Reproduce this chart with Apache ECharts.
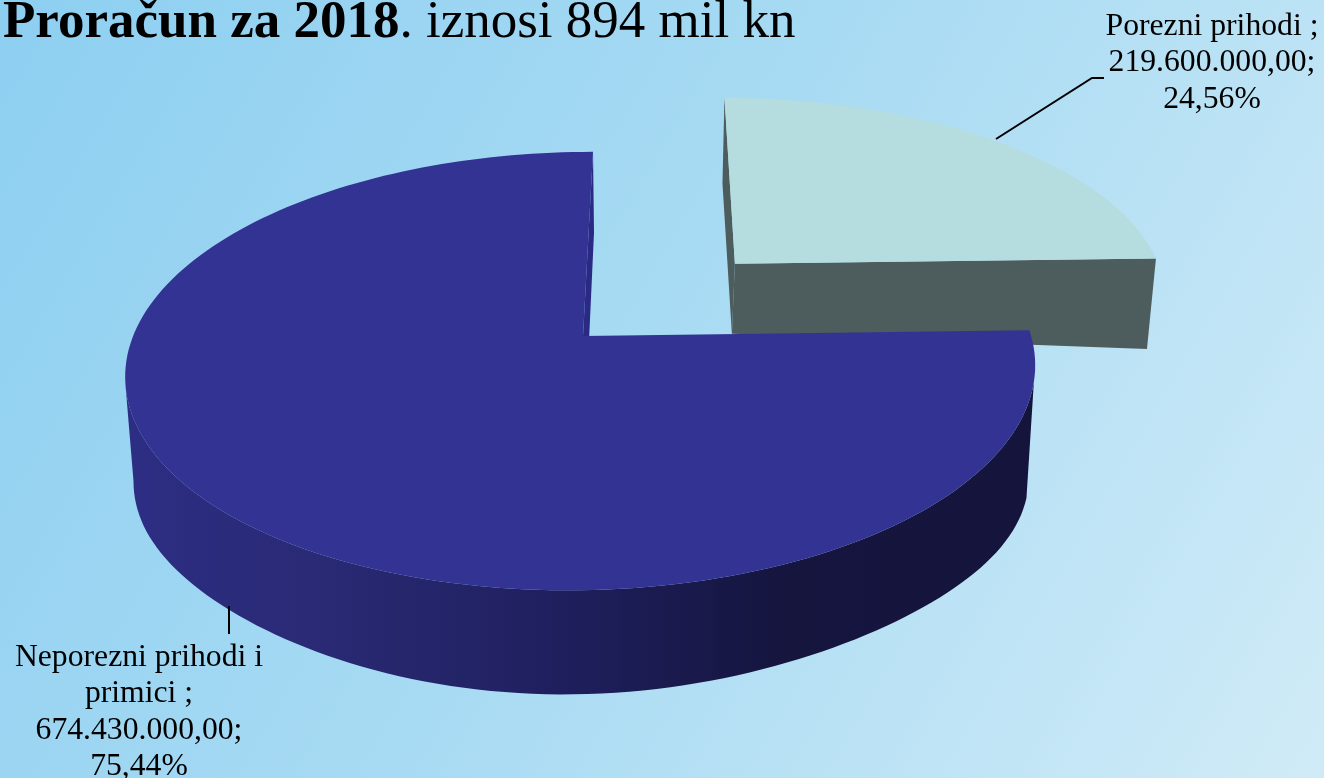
<!DOCTYPE html>
<html>
<head>
<meta charset="utf-8">
<title>Proračun za 2018</title>
<script src="https://cdn.jsdelivr.net/npm/echarts@6/dist/echarts.min.js"></script>
<style>
  html, body { margin: 0; padding: 0; width: 100%; height: 100%; overflow: hidden; }
  #main { width: 1324px; height: 778px; }
</style>
</head>
<body>
<div id="main"></div>
<script>
const categories = ['Porezni prihodi ;', 'Neporezni prihodi i\nprimici ;']
const values = [219600000, 674430000]

const fontFamily = '"Liberation Serif", "Times New Roman", serif'
const topColors = ['#b5dcdf', '#333393']
const cutColors = ['#4d5c5c', '#2a2a85']
const explode = [0.5, 0]
// dubina i pomak stranice ovise o polozaju na disku (0, u, v, v*v, u^4)
const wallDepth = [[70, 20, 16, 0, 0], [70, 10, -11.5, 22.5, 36]]
const wallShift = [[-3, -6, 1, 0], [3, -8, 10, -12]]
const labelPos = [[1212, 63], [139, 712]]
const leaders = [
  [[996, 139], [1092, 78], [1104, 78]],
  [[229, 606], [229, 634]]
]

const total = values.reduce((a, b) => a + b, 0)

function formatMoney(v) {
  return v.toFixed(2).replace('.', ',').replace(/\B(?=(\d{3})+(?!\d))/g, '.')
}
function formatLabel(i) {
  const pct = ((values[i] / total) * 100).toFixed(2).replace('.', ',')
  return categories[i] + '\n' + formatMoney(values[i]) + ';\n' + pct + '%'
}

// perspektivna projekcija diska na ekran
function project(u, v) {
  const w = 1 + 0.002 * u + 0.16 * v
  return [583 + (449 * u + 11.6 * v) / w, 336 + (-213.6 * v) / w]
}

const chart = echarts.init(document.getElementById('main'))

function renderSlice(params, api) {
  const i = params.dataIndex
  const frac = api.value(0) / total
  let before = 0
  for (let k = 0; k < i; k++) before += values[k] / total
  const a0 = before * 2 * Math.PI
  const a1 = (before + frac) * 2 * Math.PI
  const mid = (a0 + a1) / 2
  const ox = explode[i] * Math.sin(mid)
  const oy = explode[i] * Math.cos(mid)

  const top = (lu, lv) => project(ox + lu, oy + lv)
  const bottom = (lu, lv) => {
    const p = top(lu, lv)
    const h = wallDepth[i]
    const s = wallShift[i]
    return [
      p[0] + s[0] + s[1] * lu + s[2] * lv + s[3] * lv * lv,
      p[1] + h[0] + h[1] * lu + h[2] * lv + h[3] * lv * lv + h[4] * Math.pow(lu, 4)
    ]
  }

  const arc = []
  const steps = 180
  for (let k = 0; k <= steps; k++) {
    const a = a0 + ((a1 - a0) * k) / steps
    arc.push([Math.sin(a), Math.cos(a)])
  }
  const first = arc[0]
  const last = arc[arc.length - 1]

  const children = []
  // vanjski plast manjeg isjecka se ne vidi, a kod veceg samo prednja strana
  if (i === 1) {
    const wallFill = new echarts.graphic.LinearGradient(125, 0, 1035, 0, [
      { offset: 0, color: '#2d2d84' },
      { offset: 0.2, color: '#2a2a76' },
      { offset: 0.48, color: '#1f1f5e' },
      { offset: 0.72, color: '#15153f' },
      { offset: 1, color: '#14143c' }
    ], true)
    const front = arc.filter(p => p[1] < -0.2)
    const wallPts = front.map(p => top(p[0], p[1])).concat(front.slice().reverse().map(p => bottom(p[0], p[1])))
    children.push({ type: 'polygon', shape: { points: wallPts }, style: { fill: wallFill } })
  }
  const cuts = i === 1 ? [last] : [first, last]
  cuts.forEach(p => {
    children.push({
      type: 'polygon',
      shape: { points: [top(0, 0), top(p[0], p[1]), bottom(p[0], p[1]), bottom(0, 0)] },
      style: { fill: cutColors[i] }
    })
  })
  children.push({
    type: 'polygon',
    shape: { points: [top(0, 0)].concat(arc.map(p => top(p[0], p[1]))) },
    style: { fill: topColors[i] }
  })
  children.push({
    type: 'polyline',
    shape: { points: leaders[i] },
    style: { fill: null, stroke: '#000', lineWidth: 2 }
  })
  children.push({
    type: 'text',
    x: labelPos[i][0],
    y: labelPos[i][1],
    style: {
      text: formatLabel(i),
      fill: '#000',
      font: '31.7px ' + fontFamily,
      lineHeight: 36.5,
      align: 'center',
      verticalAlign: 'middle'
    }
  })
  return { type: 'group', children: children }
}

chart.setOption({
  animation: false,
  backgroundColor: new echarts.graphic.LinearGradient(0, 0, 1, 1, [
    { offset: 0, color: '#8dcff1' },
    { offset: 0.5, color: '#a9dbf3' },
    { offset: 1, color: '#d0ebf7' }
  ]),
  title: {
    left: -2,
    top: -8,
    text: '{b|Proračun za 2018}{r|. iznosi 894 mil kn}',
    textStyle: {
      rich: {
        b: { fontFamily: fontFamily, fontSize: 53, fontWeight: 'bold', color: '#000' },
        r: { fontFamily: fontFamily, fontSize: 53, fontWeight: 'normal', color: '#000' }
      }
    }
  },
  series: [
    {
      type: 'custom',
      coordinateSystem: 'none',
      renderItem: renderSlice,
      data: values,
      silent: true
    }
  ]
})
</script>
</body>
</html>
